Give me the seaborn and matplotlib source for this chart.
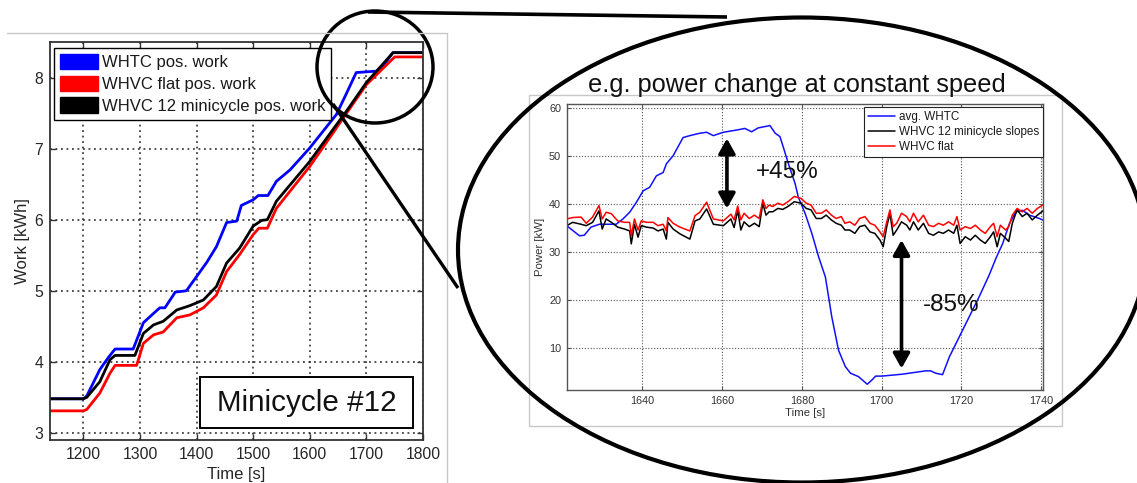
import matplotlib
matplotlib.use("Agg")
import numpy as np
import pandas as pd
import matplotlib.pyplot as plt
import seaborn as sns
from matplotlib.patches import Ellipse, Rectangle, Patch

# ---------------- cumulative positive work, minicycle #12 ----------------
work_labels = ["WHTC pos. work", "WHVC flat pos. work", "WHVC 12 minicycle pos. work"]
work_colors = ["#0000ff", "#ff0000", "#000000"]

whtc_time = [1141, 1200, 1206, 1229, 1244, 1256, 1288, 1306, 1321, 1335, 1344, 1359, 1362,
             1382, 1400, 1418, 1435, 1453, 1471, 1479, 1500, 1509, 1526, 1541, 1565, 1582,
             1600, 1626, 1647, 1665, 1682, 1718, 1729, 1747, 1800]
whtc_work = [3.48, 3.48, 3.52, 3.89, 4.06, 4.18, 4.18, 4.55, 4.66, 4.76, 4.76, 4.94, 4.98,
             5.00, 5.20, 5.40, 5.62, 5.96, 5.98, 6.20, 6.28, 6.34, 6.34, 6.54, 6.70, 6.85,
             7.01, 7.27, 7.48, 7.78, 8.07, 8.09, 8.16, 8.35, 8.35]

mini_time = [1141, 1200, 1206, 1229, 1247, 1256, 1291, 1306, 1324, 1341, 1365, 1388, 1412,
             1435, 1453, 1476, 1500, 1515, 1525, 1541, 1600, 1641, 1665, 1700, 1747, 1800]
mini_work = [3.48, 3.48, 3.50, 3.72, 4.03, 4.09, 4.09, 4.40, 4.52, 4.57, 4.73, 4.79, 4.87,
             5.06, 5.39, 5.60, 5.91, 5.99, 6.00, 6.26, 6.82, 7.27, 7.53, 7.93, 8.35, 8.35]

flat_time = [1141, 1200, 1206, 1229, 1247, 1256, 1294, 1306, 1324, 1341, 1365, 1388, 1412,
             1435, 1453, 1476, 1500, 1510, 1525, 1541, 1600, 1641, 1665, 1700, 1750, 1800]
flat_work = [3.31, 3.31, 3.33, 3.56, 3.84, 3.95, 3.95, 4.26, 4.38, 4.42, 4.62, 4.66, 4.76,
             4.94, 5.27, 5.51, 5.79, 5.88, 5.88, 6.16, 6.75, 7.22, 7.50, 7.90, 8.29, 8.29]

work_xticks = [1200, 1300, 1400, 1500, 1600, 1700, 1800]
work_yticks = [3, 4, 5, 6, 7, 8]

# ---------------- power trace, zoomed section ----------------
power_labels = ["avg. WHTC", "WHVC 12 minicycle slopes", "WHVC flat"]
power_colors = ["#1010ff", "#000000", "#ff0000"]

whtc_p_time = [1621, 1624.2, 1625.4, 1627.1, 1629.2, 1633.4, 1635.1, 1636.8, 1638.5, 1640.2,
               1641.8, 1643.5, 1645.2, 1646, 1647.7, 1650.2, 1651.9, 1654.4, 1656.1, 1657.8,
               1660.3, 1663.9, 1665.7, 1667.4, 1669, 1672, 1673.3, 1674.5, 1675.3, 1676.6,
               1678.3, 1679.1, 1680.8, 1682.5, 1684.2, 1685.9, 1687.5, 1689.2, 1690.9, 1692.2,
               1694.2, 1696.4, 1697.6, 1698.5, 1700.1, 1705.2, 1707.7, 1711.1, 1712.3, 1713.6,
               1715.3, 1717, 1719.5, 1722, 1724.5, 1727, 1728.7, 1730.4, 1732.1, 1733.7,
               1735.4, 1737.1, 1739.6, 1741.7]
whtc_power = [35.5, 33.4, 33.5, 35.2, 35.8, 35.8, 36.9, 38.3, 40.4, 42.8,
              43.5, 45.9, 46.6, 48.4, 50.1, 53.9, 54.3, 54.8, 55.0, 54.3,
              55.0, 55.5, 55.8, 55.1, 55.9, 56.4, 54.8, 54.1, 52.0, 48.5,
              44.3, 41.5, 38.1, 33.9, 29.0, 24.8, 16.5, 9.5, 6.1, 4.7,
              4.0, 2.4, 3.3, 4.1, 4.1, 4.5, 4.8, 5.2, 5.2, 4.7,
              4.4, 8.1, 12.3, 16.5, 20.7, 25.2, 28.7, 31.8, 36.0, 38.4,
              38.7, 37.7, 37.0, 36.2]

whvc_p_time = [1621, 1622.5, 1624.6, 1625.9, 1627.5, 1629.1, 1629.9, 1630.9, 1632.2, 1633.8,
               1635.5, 1636.8, 1637.2, 1638.0, 1638.9, 1639.7, 1641.0, 1642.7, 1643.9, 1645.2,
               1646.0, 1646.4, 1647.7, 1649.4, 1651.9, 1653.2, 1654.4, 1656.1, 1657.8, 1660.3,
               1662.2, 1663.0, 1663.9,
               1664.7, 1665.5, 1666.8, 1668.1, 1669.3, 1670.2, 1671.0, 1671.8, 1672.7, 1674.0,
               1675.2, 1676.5, 1678.1, 1679.8, 1681.1, 1682.3, 1683.6, 1684.9, 1686.1, 1687.4,
               1688.6, 1689.9, 1690.8, 1692.0, 1693.3, 1694.5, 1695.8, 1697.1, 1698.3, 1699.6,
               1700.4, 1701.3, 1702.1, 1702.9, 1703.8, 1705.0, 1706.3, 1707.1, 1708.0, 1709.2,
               1710.5, 1711.8, 1713.0, 1714.3, 1715.5, 1716.8, 1718.1, 1718.9, 1719.7, 1721.0,
               1722.3, 1723.5, 1724.8, 1726.0, 1727.3, 1728.1, 1729.0, 1729.8, 1731.1, 1731.9,
               1732.8, 1734.0, 1735.3, 1736.5, 1737.8, 1739.1, 1740.8]
flat_power = [36.9, 37.2, 37.3, 36.0, 37.3, 39.7, 36.9, 38.3, 38.0, 36.5,
              36.2, 36.2, 33.4, 36.9, 34.6, 36.5, 36.2, 36.2, 35.5, 35.8,
              34.4, 37.2, 36.0, 35.2, 34.4, 37.6, 38.3, 40.4, 36.9, 36.5,
              37.9, 36.7, 39.6,
              36.7, 38.1, 37.0, 37.7, 37.0, 40.9, 39.1, 39.8, 39.5, 40.2,
              39.8, 40.5, 41.6, 41.2, 40.2, 39.8, 38.1, 38.1, 38.8, 37.7,
              37.0, 37.4, 36.0, 36.3, 35.6, 37.0, 37.4, 36.0, 35.6, 34.2,
              33.2, 36.3, 38.8, 35.3, 36.0, 38.1, 37.4, 36.3, 38.1, 36.3,
              37.7, 35.6, 35.3, 36.0, 35.6, 36.3, 35.6, 37.4, 34.6, 35.3,
              34.9, 35.6, 34.6, 33.9, 35.3, 36.0, 33.2, 35.6, 34.6, 35.3,
              37.7, 39.1, 38.4, 39.1, 38.1, 39.1, 40.0]
slopes_power = [35.5, 36.2, 35.8, 35.5, 36.2, 38.6, 34.8, 36.9, 36.2, 35.2,
                34.8, 34.4, 31.7, 35.8, 33.1, 35.5, 35.2, 35.0, 34.4, 34.8,
                32.7, 36.2, 34.8, 33.8, 32.7, 36.5, 36.9, 39.0, 35.8, 35.5,
                36.9, 35.1, 38.7,
                34.6, 36.3, 35.3, 36.0, 35.3, 40.2, 37.7, 38.4, 38.4, 39.1,
                38.9, 39.5, 40.5, 40.2, 39.1, 38.8, 37.0, 37.0, 37.7, 36.7,
                36.0, 35.6, 34.6, 34.6, 33.9, 35.3, 35.6, 34.2, 33.9, 32.5,
                31.1, 35.3, 38.1, 33.5, 34.6, 36.3, 35.6, 34.6, 36.3, 34.6,
                36.0, 33.9, 33.5, 34.2, 33.9, 34.6, 33.9, 35.6, 31.8, 33.2,
                32.5, 33.5, 32.5, 31.8, 33.2, 34.2, 31.1, 33.9, 32.9, 32.2,
                36.0, 38.8, 37.4, 38.1, 36.7, 37.7, 38.8]

power_xticks = [1640, 1660, 1680, 1700, 1720, 1740]
power_yticks = [10, 20, 30, 40, 50, 60]

# annotated power differences: arrows (time, from, to) and labels (text, time, power)
rise_arrow = (1661.2, 39.1, 53.7)
drop_arrow = (1705.0, 32.5, 5.7)
rise_text = ("+45%", 1676.4, 46.7)
drop_text = ("-85%", 1717.4, 18.9)

# ---------------- style ----------------
sns.set_theme(style="ticks")
plt.rcParams["font.family"] = ["Liberation Sans", "DejaVu Sans"]
plt.rcParams["axes.linewidth"] = 1.0

W, H = 1137, 483
fig = plt.figure(figsize=(W / 100, H / 100), dpi=100)
fig.patch.set_facecolor("white")


def px_box(left, top, right, bottom):
    return [left / W, 1 - bottom / H, (right - left) / W, (bottom - top) / H]


# ---------------- left panel: cumulative work ----------------
ax1 = fig.add_axes(px_box(50, 42, 423, 440))
df_work = pd.concat([
    pd.DataFrame({"Time": whtc_time, "Work": whtc_work, "series": work_labels[0]}),
    pd.DataFrame({"Time": flat_time, "Work": flat_work, "series": work_labels[1]}),
    pd.DataFrame({"Time": mini_time, "Work": mini_work, "series": work_labels[2]}),
])
sns.lineplot(data=df_work, x="Time", y="Work", hue="series", hue_order=work_labels,
             palette=work_colors, estimator=None, sort=False, linewidth=2.0,
             legend=False, ax=ax1)
ax1.set_xlim(1141, 1800)
ax1.set_ylim(2.9, 8.5)
ax1.set_xticks(work_xticks)
ax1.set_yticks(work_yticks)
ax1.grid(True, color="#222222", linestyle=(0, (1.2, 2.4)), linewidth=1.1)
ax1.tick_params(direction="in", top=True, right=True, length=4, width=1.0,
                labelsize=11.3, labelcolor="#262626", color="#333333", pad=5)
for s in ax1.spines.values():
    s.set_color("#333333")
    s.set_linewidth(1.3)
ax1.set_xlabel("Time [s]", fontsize=12, color="#262626", labelpad=4)
ax1.set_ylabel("Work [kWh]", fontsize=12, color="#262626", labelpad=3)

work_handles = [Patch(facecolor=c, edgecolor=c, label=l) for c, l in zip(work_colors, work_labels)]
leg1 = ax1.legend(handles=work_handles, loc="upper left",
                  bbox_to_anchor=(54 / W, 1 - 48 / H), bbox_transform=fig.transFigure,
                  borderaxespad=0, fontsize=12, frameon=True, fancybox=False,
                  edgecolor="black", framealpha=1, handlelength=2.3, handleheight=1.05,
                  handletextpad=0.2, labelspacing=0.32, borderpad=0.35)
leg1.get_frame().set_linewidth(1.0)
for txt in leg1.get_texts():
    txt.set_color("#1a1a1a")

# ---------------- right panel: power ----------------
ax2 = fig.add_axes(px_box(566.7, 104, 1043, 390))
df_power = pd.concat([
    pd.DataFrame({"Time": whtc_p_time, "Power": whtc_power, "series": power_labels[0]}),
    pd.DataFrame({"Time": whvc_p_time, "Power": slopes_power, "series": power_labels[1]}),
    pd.DataFrame({"Time": whvc_p_time, "Power": flat_power, "series": power_labels[2]}),
])
sns.lineplot(data=df_power, x="Time", y="Power", hue="series", hue_order=power_labels,
             palette=power_colors, estimator=None, sort=False, linewidth=1.1, ax=ax2)
ax2.set_xlim(1621, 1740.5)
ax2.set_ylim(1.2, 60.9)
ax2.set_xticks(power_xticks)
ax2.set_yticks(power_yticks)
ax2.grid(True, color="#555555", linestyle=(0, (1, 1.6)), linewidth=0.8)
ax2.tick_params(direction="in", top=True, right=True, length=3, width=0.8,
                labelsize=7.8, labelcolor="#333333", color="#555555", pad=4)
for s in ax2.spines.values():
    s.set_color("#555555")
    s.set_linewidth(1.0)
ax2.set_xlabel("Time [s]", fontsize=8.2, color="#333333", labelpad=2)
ax2.set_ylabel("Power [kW]", fontsize=8.2, color="#333333", labelpad=3)
leg2 = ax2.legend(loc="upper right", bbox_to_anchor=(1043 / W, 1 - 107 / H),
                  bbox_transform=fig.transFigure, borderaxespad=0, fontsize=8.4,
                  frameon=True, fancybox=False, edgecolor="#222222", framealpha=1,
                  handlelength=2.3, handletextpad=0.3, labelspacing=0.25, borderpad=0.35,
                  title=None)
leg2.get_frame().set_linewidth(0.8)
for txt in leg2.get_texts():
    txt.set_color("#1a1a1a")

arrow_props = dict(arrowstyle="<|-|>,head_length=0.5,head_width=0.28", lw=2.6,
                   color="black", shrinkA=0, shrinkB=0, mutation_scale=18)
for t, p0, p1 in (rise_arrow, drop_arrow):
    ax2.annotate("", xy=(t, p1), xytext=(t, p0), arrowprops=arrow_props)
for label, t, p in (rise_text, drop_text):
    ax2.text(t, p, label, fontsize=17.5, ha="center", va="center", color="#111111")

# ---------------- overlay: frames, zoom circle and callout ----------------
ov = fig.add_axes([0, 0, 1, 1], zorder=10)
ov.set_xlim(0, W)
ov.set_ylim(H, 0)
ov.axis("off")

frame_col = "#c8c8c8"
ov.plot([7, 447], [33, 33], color=frame_col, lw=1.0)
ov.plot([447, 447], [33, 483], color=frame_col, lw=1.0)
ov.add_patch(Rectangle((529, 95), 533, 331, fill=False, edgecolor=frame_col, lw=1.0))

ov.add_patch(Rectangle((200, 377), 213, 51, facecolor="white", edgecolor="black", lw=1.4))
ov.text(306.5, 403, "Minicycle #12", fontsize=21.3, ha="center", va="center", color="#111111")

ov.text(796.5, 92, "e.g. power change at constant speed", fontsize=18.3,
        ha="center", va="baseline", color="#111111")

ov.add_patch(Ellipse((375, 67), 116, 112, fill=False, edgecolor="black", lw=2.5))
ov.add_patch(Ellipse((802, 250), 688, 465, fill=False, edgecolor="black", lw=3.0))
ov.plot([368, 727], [12, 17], color="black", lw=2.6, solid_capstyle="butt")
ov.plot([333, 458], [104, 288], color="black", lw=2.4, solid_capstyle="butt")

fig.savefig("out.png", dpi=100, facecolor="white")
